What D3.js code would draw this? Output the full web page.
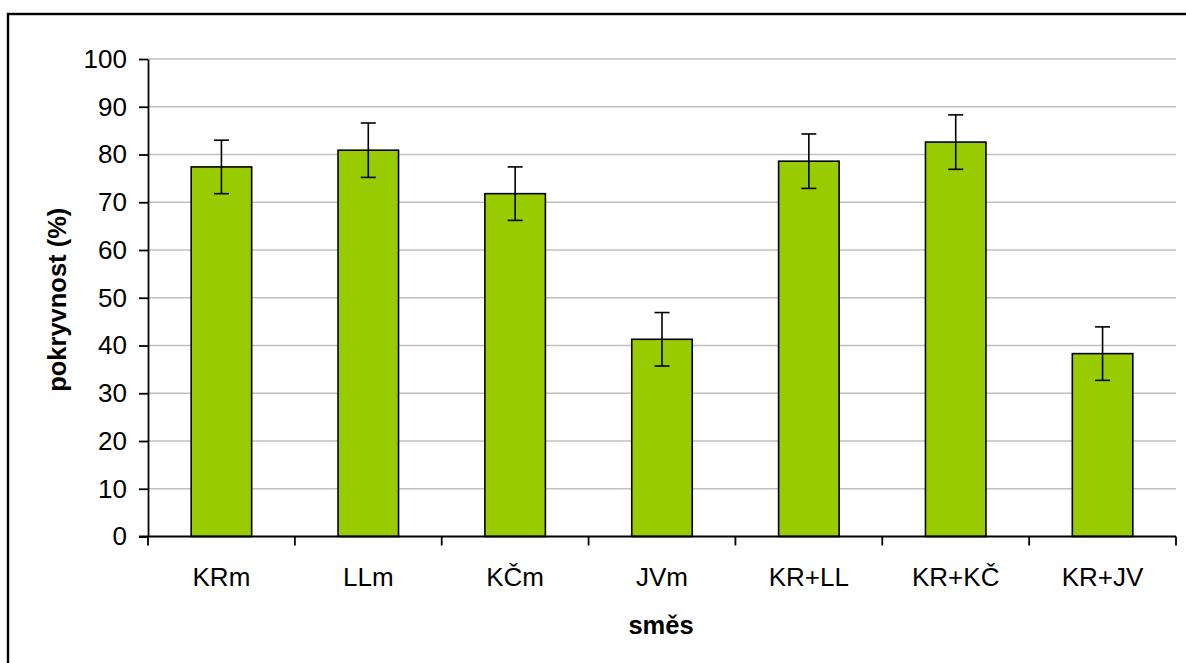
<!DOCTYPE html>
<html>
<head>
<meta charset="utf-8">
<script src="https://cdn.jsdelivr.net/npm/d3@7/dist/d3.min.js"></script>
<style>
  html, body { margin: 0; padding: 0; background: #fff; }
  svg { display: block; }
  text { font-family: "Liberation Sans", Arial, sans-serif; fill: #000; }
</style>
</head>
<body>
<svg id="chart" width="1186" height="663"></svg>
<script>
const categories = ["KRm", "LLm", "KČm", "JVm", "KR+LL", "KR+KČ", "KR+JV"];
const values = [77.4, 80.9, 71.8, 41.3, 78.6, 82.6, 38.3];
const errors = [5.6, 5.7, 5.6, 5.6, 5.7, 5.7, 5.6];
const yTicks = [0, 10, 20, 30, 40, 50, 60, 70, 80, 90, 100];
const yTitle = "pokryvnost (%)";
const xTitle = "směs";

const svg = d3.select("#chart");
const W = 1186, H = 663;
const plot = { left: 148, right: 1176, top: 59, bottom: 536.5 };

// outer border (extends past right/bottom edges as in reference)
svg.append("rect")
  .attr("x", 8).attr("y", 14)
  .attr("width", W + 10).attr("height", H + 10)
  .attr("fill", "#fff").attr("stroke", "#000").attr("stroke-width", 2.4);

const x = d3.scaleBand()
  .domain(categories)
  .range([plot.left, plot.right])
  .paddingInner(0.588)
  .paddingOuter(0.294);

const y = d3.scaleLinear().domain([0, 100]).range([plot.bottom, plot.top]);

// gridlines
svg.append("g")
  .selectAll("line")
  .data(yTicks.filter(d => d > 0))
  .join("line")
  .attr("x1", plot.left).attr("x2", plot.right)
  .attr("y1", d => y(d)).attr("y2", d => y(d))
  .attr("stroke", "#c0c0c0").attr("stroke-width", 1.6);

// bars
svg.append("g")
  .selectAll("rect")
  .data(categories)
  .join("rect")
  .attr("x", d => x(d))
  .attr("y", (d, i) => y(values[i]))
  .attr("width", x.bandwidth())
  .attr("height", (d, i) => y(0) - y(values[i]))
  .attr("fill", "#99cc00")
  .attr("stroke", "#000").attr("stroke-width", 1.6);

// error bars
const eg = svg.append("g").attr("stroke", "#000").attr("stroke-width", 1.6);
categories.forEach((c, i) => {
  const cx = x(c) + x.bandwidth() / 2;
  const hi = y(values[i] + errors[i]);
  const lo = y(values[i] - errors[i]);
  eg.append("line").attr("x1", cx).attr("x2", cx).attr("y1", hi).attr("y2", lo);
  eg.append("line").attr("x1", cx - 7.5).attr("x2", cx + 7.5).attr("y1", hi).attr("y2", hi);
  eg.append("line").attr("x1", cx - 7.5).attr("x2", cx + 7.5).attr("y1", lo).attr("y2", lo);
});

// y axis
const yAxis = d3.axisLeft(y).tickValues(yTicks).tickSize(9).tickPadding(12).tickSizeOuter(0);
const yg = svg.append("g").attr("transform", `translate(${plot.left},0)`).call(yAxis);
yg.select(".domain").attr("stroke", "#000").attr("stroke-width", 1.8);
yg.selectAll(".tick line").attr("stroke", "#000").attr("stroke-width", 1.8);
yg.selectAll(".tick text")
  .attr("font-family", "Liberation Sans, Arial, sans-serif")
  .attr("font-size", 26).attr("fill", "#000");

// x axis: ticks at category boundaries
const xg = svg.append("g").attr("transform", `translate(0,${plot.bottom})`);
xg.append("line")
  .attr("x1", plot.left - 9).attr("x2", plot.right)
  .attr("y1", 0).attr("y2", 0)
  .attr("stroke", "#000").attr("stroke-width", 1.8);
const step = x.step();
const boundaries = d3.range(categories.length + 1).map(i => plot.left + i * step);
xg.selectAll("line.bt")
  .data(boundaries)
  .join("line").attr("class", "bt")
  .attr("x1", d => d).attr("x2", d => d)
  .attr("y1", 0).attr("y2", 9)
  .attr("stroke", "#000").attr("stroke-width", 1.8);
xg.selectAll("text")
  .data(categories)
  .join("text")
  .attr("x", d => x(d) + x.bandwidth() / 2)
  .attr("y", 49.5)
  .attr("text-anchor", "middle")
  .attr("font-size", 26)
  .text(d => d);

// axis titles
svg.append("text")
  .attr("transform", `translate(66,${(plot.top + plot.bottom) / 2 + 2}) rotate(-90)`)
  .attr("text-anchor", "middle")
  .attr("font-size", 25.5).attr("font-weight", "bold")
  .text(yTitle);

svg.append("text")
  .attr("x", 661).attr("y", 634)
  .attr("text-anchor", "middle")
  .attr("font-size", 25.5).attr("font-weight", "bold")
  .text(xTitle);
</script>
</body>
</html>
